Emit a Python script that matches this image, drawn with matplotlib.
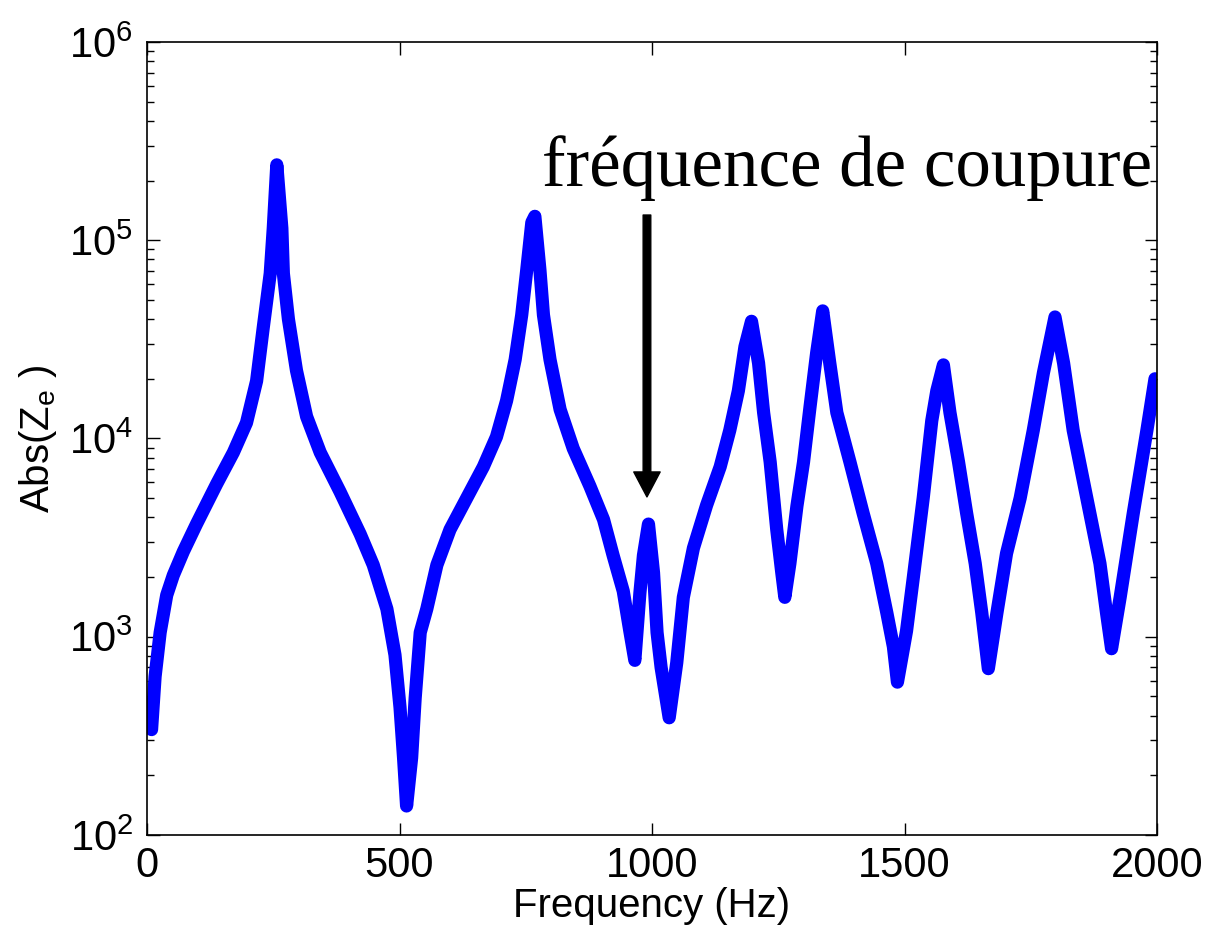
import matplotlib
matplotlib.use('Agg')
import matplotlib.pyplot as plt
from matplotlib.ticker import LogLocator, FixedLocator

plt.rcParams['font.family'] = ['Liberation Sans', 'DejaVu Sans']
plt.rcParams['mathtext.fontset'] = 'custom'
plt.rcParams['mathtext.rm'] = 'Liberation Sans'
plt.rcParams['mathtext.it'] = 'Liberation Sans'

# frequency (Hz) and |Ze|
freq = [9, 16, 26, 39, 52, 72, 98, 138, 171, 197, 217, 230, 244, 250, 257,
        267, 270, 280, 296, 316, 343, 382, 422, 448, 475, 491, 501, 508, 514,
        524, 531, 541, 554, 574, 600, 633, 666, 692, 712, 729, 742, 752, 762,
        768, 778, 785, 798, 818, 844, 877, 904, 923, 943, 956, 966, 976, 983,
        993, 1003, 1010, 1018, 1034, 1049, 1062, 1082, 1108, 1135, 1154, 1171,
        1184, 1197, 1211, 1221, 1234, 1247, 1257, 1263, 1273, 1287, 1300, 1313,
        1326, 1338, 1352, 1366, 1392, 1418, 1445, 1465, 1478, 1486, 1504, 1517,
        1537, 1554, 1564, 1577, 1590, 1607, 1623, 1640, 1653, 1666, 1683, 1702,
        1729, 1755, 1775, 1798, 1815, 1834, 1861, 1887, 1900, 1910, 1927, 1953,
        1980, 1996]
abs_ze = [340, 630, 1050, 1620, 2040, 2690, 3700, 5900, 8500, 12000, 19500,
          36000, 68000, 115000, 240000, 115000, 68000, 40000, 22000, 12900,
          8500, 5400, 3300, 2300, 1380, 810, 440, 245, 140, 245, 490, 1050,
          1380, 2300, 3470, 5000, 7200, 10200, 15500, 25000, 42000, 71000,
          123000, 132000, 71000, 42000, 25000, 14000, 8900, 5750, 3900, 2570,
          1700, 1070, 760, 1660, 2570, 3700, 2100, 1050, 700, 390, 740, 1580,
          2800, 4600, 7200, 11000, 17400, 29000, 39000, 24000, 13500, 7600,
          3470, 2100, 1580, 2340, 4570, 7600, 14500, 27000, 44000, 24000,
          13500, 7600, 4200, 2340, 1320, 890, 590, 1070, 1950, 5000, 12300,
          17400, 23500, 13500, 7600, 4200, 2340, 1320, 690, 1320, 2630, 5000,
          11000, 21400, 41000, 24000, 11000, 5000, 2340, 1320, 870, 1580, 4200,
          11000, 20000]

xticks = [0, 500, 1000, 1500, 2000]
cutoff_f = 990
arrow_top = 134000
arrow_tip = 5070

fig = plt.figure(figsize=(12.09, 9.39), dpi=100)
ax = fig.add_axes([0.1216, 0.1108, 0.8354, 0.8445])

ax.plot(freq, abs_ze, color='#0000ff', lw=9.5,
        solid_capstyle='round', solid_joinstyle='round')

ax.set_yscale('log')
ax.set_xlim(0, 2000)
ax.set_ylim(1e2, 1e6)
ax.xaxis.set_major_locator(FixedLocator(xticks))
ax.yaxis.set_major_locator(LogLocator(base=10, numticks=10))
ax.yaxis.set_minor_locator(LogLocator(base=10, subs=range(2, 10), numticks=20))
ax.tick_params(which='both', direction='in', top=True, right=True,
               labelsize=30, width=1)
ax.tick_params(axis='x', pad=8)
ax.tick_params(axis='y', pad=10)
ax.tick_params(which='major', length=9)
ax.tick_params(which='minor', length=5)
for s in ax.spines.values():
    s.set_linewidth(1.2)

ax.set_xlabel('Frequency (Hz)', fontsize=29, labelpad=1)
ax.set_ylabel(r'Abs(Z$_{\rm e}$ )', fontsize=29, labelpad=7)

ax.annotate('', xy=(cutoff_f, arrow_tip), xytext=(cutoff_f, arrow_top),
            arrowprops=dict(facecolor='black', edgecolor='black', width=5.5,
                            headwidth=19, headlength=18, shrink=0))
ax.text(1990, 1.88e5, 'fréquence de coupure', ha='right', va='baseline',
        fontsize=51, family=['Liberation Serif', 'DejaVu Serif'])

fig.savefig('out.png', dpi=100)
